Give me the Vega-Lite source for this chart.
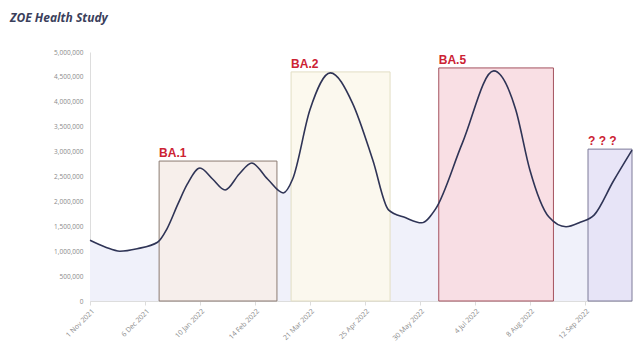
{
  "$schema": "https://vega.github.io/schema/vega-lite/v6.json",
  "width": 542,
  "height": 249,
  "autosize": {"type": "none"},
  "padding": {"left": 90, "top": 52, "right": 8, "bottom": 54},
  "background": "#ffffff",
  "title": {
    "text": "ZOE Health Study",
    "anchor": "start",
    "frame": "group",
    "dx": -80,
    "offset": 24,
    "font": "Open Sans",
    "fontSize": 12,
    "fontStyle": "italic",
    "fontWeight": "bold",
    "color": "#3b3f5c"
  },
  "config": {"view": {"stroke": null}},
  "datasets": {
    "cases": [
      {"date": "2021-11-01", "value": 1220000},
      {"date": "2021-11-11", "value": 1080000},
      {"date": "2021-11-20", "value": 1000000},
      {"date": "2021-12-01", "value": 1050000},
      {"date": "2021-12-14", "value": 1180000},
      {"date": "2021-12-20", "value": 1450000},
      {"date": "2021-12-27", "value": 1950000},
      {"date": "2022-01-02", "value": 2350000},
      {"date": "2022-01-10", "value": 2670000},
      {"date": "2022-01-18", "value": 2450000},
      {"date": "2022-01-26", "value": 2230000},
      {"date": "2022-02-04", "value": 2550000},
      {"date": "2022-02-12", "value": 2770000},
      {"date": "2022-02-22", "value": 2450000},
      {"date": "2022-03-04", "value": 2170000},
      {"date": "2022-03-10", "value": 2450000},
      {"date": "2022-03-21", "value": 3840000},
      {"date": "2022-04-03", "value": 4580000},
      {"date": "2022-04-17", "value": 3980000},
      {"date": "2022-04-30", "value": 2830000},
      {"date": "2022-05-10", "value": 1830000},
      {"date": "2022-05-21", "value": 1670000},
      {"date": "2022-05-31", "value": 1570000},
      {"date": "2022-06-09", "value": 1850000},
      {"date": "2022-06-26", "value": 3170000},
      {"date": "2022-07-16", "value": 4620000},
      {"date": "2022-07-30", "value": 3840000},
      {"date": "2022-08-08", "value": 2630000},
      {"date": "2022-08-20", "value": 1690000},
      {"date": "2022-08-31", "value": 1490000},
      {"date": "2022-09-09", "value": 1580000},
      {"date": "2022-09-18", "value": 1730000},
      {"date": "2022-09-30", "value": 2400000},
      {"date": "2022-10-12", "value": 3030000}
    ],
    "waves": [
      {"wave": "BA.1", "start": "2021-12-15", "end": "2022-02-28", "top": 2810000, "fill": "#f6ede9", "stroke": "#8c7b72"},
      {"wave": "BA.2", "start": "2022-03-09", "end": "2022-05-11", "top": 4600000, "fill": "#fcf8ec", "stroke": "#e2dec4"},
      {"wave": "BA.5", "start": "2022-06-11", "end": "2022-08-23", "top": 4680000, "fill": "#f8dce1", "stroke": "#a4525e"},
      {"wave": "? ? ?", "start": "2022-09-14", "end": "2022-10-12", "top": 3050000, "fill": "#e5e2f6", "stroke": "#7c7a98"}
    ]
  },
  "encoding": {
    "x": {
      "field": "date",
      "type": "temporal",
      "scale": {"domain": ["2021-11-01", "2022-10-12"]},
      "axis": {
        "title": null,
        "values": ["2021-11-01", "2021-12-06", "2022-01-10", "2022-02-14", "2022-03-21", "2022-04-25", "2022-05-30", "2022-07-04", "2022-08-08", "2022-09-12"],
        "format": "%-d %b %Y",
        "labelAngle": -45,
        "labelFontSize": 7,
        "labelColor": "#8a8a8a",
        "labelFont": "Open Sans",
        "grid": false,
        "domainColor": "#dddddd",
        "tickColor": "#dddddd",
        "tickSize": 4
      }
    },
    "y": {
      "field": "value",
      "type": "quantitative",
      "scale": {"domain": [0, 5000000]},
      "axis": {
        "title": null,
        "values": [0, 500000, 1000000, 1500000, 2000000, 2500000, 3000000, 3500000, 4000000, 4500000, 5000000],
        "format": ",d",
        "labelFontSize": 6.5,
        "labelColor": "#8a8a8a",
        "labelFont": "Open Sans",
        "grid": false,
        "domainColor": "#dddddd",
        "ticks": false,
        "labelPadding": 7
      }
    }
  },
  "layer": [
    {
      "data": {"name": "cases"},
      "mark": {"type": "area", "interpolate": "monotone", "color": "#f0f1fa"}
    },
    {
      "data": {"name": "waves"},
      "mark": {"type": "rect", "fillOpacity": 0.9, "strokeWidth": 1},
      "encoding": {
        "x": {"field": "start", "type": "temporal"},
        "x2": {"field": "end"},
        "y": {"field": "top", "type": "quantitative", "stack": null},
        "y2": {"datum": 0},
        "fill": {"field": "fill", "type": "nominal", "scale": null},
        "stroke": {"field": "stroke", "type": "nominal", "scale": null}
      }
    },
    {
      "data": {"name": "waves"},
      "mark": {"type": "text", "align": "left", "baseline": "bottom", "dy": -1, "fontSize": 12, "fontWeight": "bold", "font": "Liberation Sans", "color": "#cc2233"},
      "encoding": {
        "x": {"field": "start", "type": "temporal"},
        "y": {"field": "top", "type": "quantitative"},
        "text": {"field": "wave"}
      }
    },
    {
      "data": {"name": "cases"},
      "mark": {"type": "line", "interpolate": "monotone", "color": "#2f3456", "strokeWidth": 1.6}
    }
  ]
}
